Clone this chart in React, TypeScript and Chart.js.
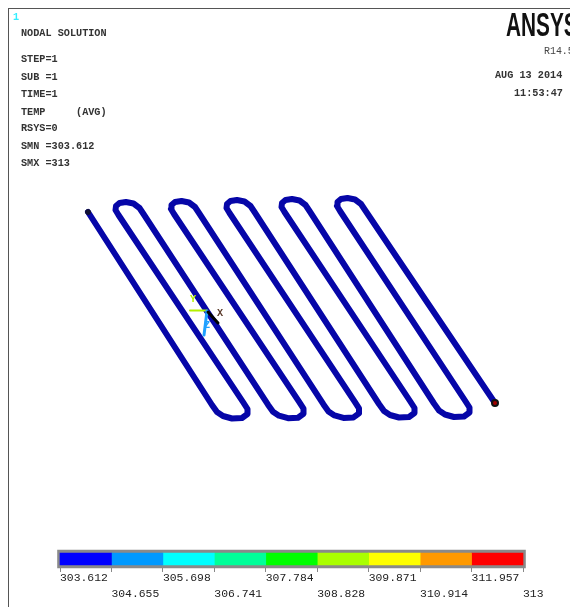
import React, { useEffect, useRef } from "react";
import { Chart, registerables } from "chart.js";

Chart.register(...registerables);

const coilX = [88,
  212,217,223,232,242,247.5,247.5,243, 118.5,115.5,116,119.5,126,133.5,139.5,143.5,
  268,273,279,288,298,303.5,303.5,299, 174,171,171.5,175,181.5,189,195,199,
  323.5,328.5,334.5,343.5,353.5,359,359,354.5, 229.5,226.5,227,230.5,237,244.5,250.5,254.5,
  379,384,390,399,409,414.5,414.5,410, 284.5,281.5,282,285.5,292,299.5,305.5,309.5,
  434,439,445,454,464,469.5,469.5,465, 340,337,337.5,341,347.5,355,361,365,
  495];
const coilY = [212,
  405,412,416,418.5,418,414,409,402, 215,210,206,203,202,203.5,208,214,
  404.7,411.7,415.7,418.2,417.7,413.7,408.7,401.7, 214,209,205,202,201,202.5,207,213,
  404.4,411.4,415.4,417.9,417.4,413.4,408.4,401.4, 213,208,204,201,200,201.5,206,212,
  404,411,415,417.5,417,413,408,401, 212,207,203,200,199,200.5,205,211,
  403.5,410.5,414.5,417,416.5,412.5,407.5,400.5, 211,206,202,199,198,199.5,204,210,
  403];

const axisYX = [190, 207];
const axisYY = [310.5, 310.5];
const axisZX = [207, 204];
const axisZY = [311, 335];
const axisXX = [208, 218];
const axisXY = [312, 323];

const legendLevels = [303.612, 304.655, 305.698, 306.741, 307.784, 308.828, 309.871, 310.914, 311.957, 313];
const legendColors = ["#0000ff", "#0099ff", "#00ffff", "#00ff99", "#00ff00", "#aaff00", "#ffff00", "#ff9900", "#ff0000"];
const frameMargin = 0.05;

const infoLabels = ["NODAL SOLUTION", "STEP=1", "SUB =1", "TIME=1", "TEMP     (AVG)", "RSYS=0", "SMN =303.612", "SMX =313"];
const infoTops = [28, 54, 72, 89, 107, 123, 141, 158];

const pts = (xs: number[], ys: number[]) => xs.map((x, i) => ({ x, y: ys[i] }));

const textStyle: React.CSSProperties = {
  position: "absolute",
  fontFamily: '"Liberation Mono", monospace',
  fontWeight: 700,
  fontSize: 10.2,
  lineHeight: "12px",
  color: "#333",
  whiteSpace: "pre",
  margin: 0,
};

export default function App() {
  const mainRef = useRef<HTMLCanvasElement>(null);
  const barRef = useRef<HTMLCanvasElement>(null);

  useEffect(() => {
    const line = (data: any[], color: string, width: number, order: number) => ({
      type: "line" as const,
      data,
      borderColor: color,
      borderWidth: width,
      pointRadius: 0,
      tension: 0,
      borderJoinStyle: "round" as const,
      borderCapStyle: "round" as const,
      order,
    });
    const main = new Chart(mainRef.current!, {
      type: "scatter",
      data: {
        datasets: [
          { ...line(pts(axisXX, axisXY), "#000000", 3, 1), showLine: true },
          { ...line(pts(axisZX, axisZY), "#1ea0ff", 3, 2), showLine: true },
          { ...line(pts(axisYX, axisYY), "#b4f000", 2, 3), showLine: true },
          {
            type: "scatter" as const,
            data: [{ x: coilX[coilX.length - 1], y: coilY[coilY.length - 1] }],
            backgroundColor: "#a00000",
            borderColor: "#111111",
            borderWidth: 2,
            pointRadius: 3,
            order: 4,
          },
          {
            type: "scatter" as const,
            data: [{ x: coilX[0], y: coilY[0] }],
            backgroundColor: "#111133",
            borderColor: "#111133",
            pointRadius: 2.5,
            order: 5,
          },
          { ...line(pts(coilX, coilY), "#0606a8", 6, 6), showLine: true },
        ],
      },
      options: {
        animation: false,
        responsive: false,
        layout: { padding: 0, autoPadding: false },
        plugins: { legend: { display: false }, tooltip: { enabled: false } },
        scales: {
          x: { type: "linear", min: 0, max: 570, display: false },
          y: { type: "linear", min: 0, max: 607, reverse: true, display: false },
        },
      },
    });

    const lo = legendLevels[0];
    const hi = legendLevels[legendLevels.length - 1];
    const bar = new Chart(barRef.current!, {
      type: "bar",
      data: {
        labels: ["temp"],
        datasets: [
          ...legendColors.map((c, i) => ({
            data: [[legendLevels[i], legendLevels[i + 1]]] as any,
            backgroundColor: c,
            barThickness: 12,
            grouped: false,
            clip: false as any,
            order: 1,
          })),
          {
            data: [[lo - frameMargin, hi + frameMargin]] as any,
            backgroundColor: "#8a8a8a",
            barThickness: 18,
            grouped: false,
            clip: false as any,
            order: 2,
          },
        ],
      },
      options: {
        indexAxis: "y",
        animation: false,
        responsive: false,
        layout: { autoPadding: false, padding: { left: 60, right: 47, top: 11, bottom: 0 } },
        plugins: { legend: { display: false }, tooltip: { enabled: false } },
        scales: {
          y: { display: false, stacked: false },
          x: {
            type: "linear",
            min: lo,
            max: hi,
            border: { display: false },
            grid: { drawOnChartArea: false, drawTicks: true, tickLength: 5, color: "#888" },
            afterBuildTicks: (scale: any) => {
              scale.ticks = legendLevels.map((value) => ({ value }));
            },
            afterFit: (scale: any) => {
              scale.height = 36;
            },
            ticks: {
              autoSkip: false,
              maxRotation: 0,
              minRotation: 0,
              align: "start",
              padding: -2,
              color: "#222",
              font: { family: '"Liberation Mono", monospace', size: 11.4, lineHeight: 1.38 },
              callback: (v: any) => {
                const i = legendLevels.indexOf(Number(v));
                const s = i === legendLevels.length - 1 ? "313" : Number(v).toFixed(3);
                return i % 2 === 0 ? [s, ""] : ["", s];
              },
            },
          },
        },
      },
    });
    return () => {
      main.destroy();
      bar.destroy();
    };
  }, []);

  return (
    <div style={{ position: "absolute", left: 0, top: 0, width: 570, height: 607, overflow: "hidden", background: "#fff" }}>
      <div style={{ position: "absolute", inset: 0, filter: "blur(0.35px)" }}>
        <div style={{ position: "absolute", left: 8, top: 8, right: 0, height: 1, background: "#555" }} />
        <div style={{ position: "absolute", left: 8, top: 8, bottom: 0, width: 1, background: "#555" }} />
        <canvas ref={mainRef} width={570} height={607} style={{ position: "absolute", left: 0, top: 0 }} />
        <canvas ref={barRef} width={570} height={63} style={{ position: "absolute", left: 0, top: 540 }} />
        <p style={{ ...textStyle, left: 13, top: 12, color: "#33eeff" }}>1</p>
        {infoLabels.map((t, i) => (
          <p key={t} style={{ ...textStyle, left: 21, top: infoTops[i] }}>{t}</p>
        ))}
        <p style={{ ...textStyle, left: 495, top: 70 }}>AUG 13 2014</p>
        <p style={{ ...textStyle, left: 514, top: 88 }}>11:53:47</p>
        <p style={{ ...textStyle, left: 544, top: 45, fontWeight: 400, color: "#444", fontSize: 11, transform: "scaleX(0.9)", transformOrigin: "left top" }}>R14.5</p>
        <p
          style={{
            ...textStyle,
            left: 506,
            top: 8,
            fontFamily: '"Liberation Sans", sans-serif',
            fontSize: 33,
            lineHeight: "34px",
            color: "#111",
            transform: "scaleX(0.63)",
            transformOrigin: "left top",
          }}
        >
          ANSYS
        </p>
        <p style={{ ...textStyle, left: 190, top: 294, color: "#b4f000" }}>Y</p>
        <p style={{ ...textStyle, left: 217, top: 308, color: "#5a3a2a" }}>X</p>
        <p style={{ ...textStyle, left: 204, top: 320, color: "#1ea0ff" }}>Z</p>
      </div>
    </div>
  );
}
